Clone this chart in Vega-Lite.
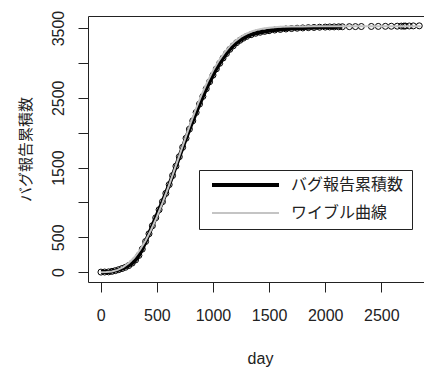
{
  "$schema": "https://vega.github.io/schema/vega-lite/v6.json",
  "width": 344,
  "height": 266,
  "autosize": {"type": "none"},
  "padding": {"left": 88, "top": 16, "right": 0, "bottom": 87},
  "background": "white",
  "config": {
    "view": {"stroke": "#222", "strokeWidth": 1},
    "font": "Liberation Sans"
  },
  "datasets": {
    "obs": [
      {"day": 2, "count": 1}, {"day": 35, "count": 2}, {"day": 70, "count": 4}, {"day": 100, "count": 12},
      {"day": 130, "count": 22}, {"day": 160, "count": 36}, {"day": 190, "count": 52}, {"day": 220, "count": 70},
      {"day": 250, "count": 95}, {"day": 280, "count": 130}, {"day": 310, "count": 175}, {"day": 340, "count": 240},
      {"day": 370, "count": 330}, {"day": 400, "count": 440}, {"day": 430, "count": 550}, {"day": 460, "count": 665},
      {"day": 490, "count": 780}, {"day": 520, "count": 895}, {"day": 550, "count": 1010}, {"day": 580, "count": 1130},
      {"day": 610, "count": 1255}, {"day": 640, "count": 1385}, {"day": 670, "count": 1520}, {"day": 700, "count": 1655},
      {"day": 730, "count": 1790}, {"day": 760, "count": 1920}, {"day": 790, "count": 2050}, {"day": 820, "count": 2170},
      {"day": 850, "count": 2290}, {"day": 880, "count": 2410}, {"day": 910, "count": 2520}, {"day": 940, "count": 2630},
      {"day": 970, "count": 2730}, {"day": 1000, "count": 2825}, {"day": 1030, "count": 2915}, {"day": 1060, "count": 2995},
      {"day": 1090, "count": 3070}, {"day": 1120, "count": 3135}, {"day": 1150, "count": 3195}, {"day": 1180, "count": 3245},
      {"day": 1210, "count": 3290}, {"day": 1240, "count": 3325}, {"day": 1270, "count": 3355}, {"day": 1300, "count": 3380},
      {"day": 1340, "count": 3405}, {"day": 1380, "count": 3425}, {"day": 1420, "count": 3440}, {"day": 1460, "count": 3452},
      {"day": 1500, "count": 3462}, {"day": 1550, "count": 3472}, {"day": 1600, "count": 3480}, {"day": 1650, "count": 3487},
      {"day": 1700, "count": 3493}, {"day": 1750, "count": 3498}, {"day": 1800, "count": 3502}, {"day": 1850, "count": 3506},
      {"day": 1900, "count": 3509}, {"day": 1950, "count": 3512}, {"day": 2000, "count": 3514}, {"day": 2040, "count": 3516},
      {"day": 2080, "count": 3517}, {"day": 2120, "count": 3518}, {"day": 2153, "count": 3519}, {"day": 2215, "count": 3520},
      {"day": 2269, "count": 3521}, {"day": 2322, "count": 3522}, {"day": 2411, "count": 3523}, {"day": 2473, "count": 3524},
      {"day": 2536, "count": 3525}, {"day": 2589, "count": 3526}, {"day": 2642, "count": 3527}, {"day": 2678, "count": 3528},
      {"day": 2700, "count": 3528}, {"day": 2714, "count": 3529}, {"day": 2749, "count": 3530}, {"day": 2785, "count": 3531},
      {"day": 2838, "count": 3532}
    ],
    "weib": [
      {"day": 0, "count": 0}, {"day": 50, "count": 2}, {"day": 100, "count": 11}, {"day": 150, "count": 33},
      {"day": 200, "count": 72}, {"day": 250, "count": 131}, {"day": 300, "count": 214}, {"day": 350, "count": 321},
      {"day": 400, "count": 454}, {"day": 450, "count": 612}, {"day": 500, "count": 793}, {"day": 550, "count": 994},
      {"day": 600, "count": 1210}, {"day": 650, "count": 1439}, {"day": 700, "count": 1672}, {"day": 750, "count": 1905},
      {"day": 800, "count": 2132}, {"day": 850, "count": 2348}, {"day": 900, "count": 2548}, {"day": 950, "count": 2730},
      {"day": 1000, "count": 2890}, {"day": 1050, "count": 3029}, {"day": 1100, "count": 3145}, {"day": 1150, "count": 3241},
      {"day": 1200, "count": 3317}, {"day": 1250, "count": 3377}, {"day": 1300, "count": 3421}, {"day": 1350, "count": 3455},
      {"day": 1400, "count": 3478}, {"day": 1450, "count": 3495}, {"day": 1500, "count": 3506}, {"day": 1600, "count": 3518},
      {"day": 1700, "count": 3522}, {"day": 1800, "count": 3524}, {"day": 1900, "count": 3525}, {"day": 2200, "count": 3525},
      {"day": 2500, "count": 3525}, {"day": 2850, "count": 3525}
    ]
  },
  "layer": [
    {
      "data": {"name": "obs"},
      "mark": {"type": "point", "shape": "circle", "filled": false, "stroke": "black", "strokeWidth": 1, "size": 36, "opacity": 1},
      "encoding": {
        "x": {"field": "day", "type": "quantitative"},
        "y": {"field": "count", "type": "quantitative"}
      }
    },
    {
      "data": {"name": "obs"},
      "transform": [{"filter": "datum.day <= 2153"}, {"calculate": "'バグ報告累積数'", "as": "series"}],
      "mark": {"type": "line"},
      "encoding": {
        "x": {"field": "day", "type": "quantitative"},
        "y": {"field": "count", "type": "quantitative"},
        "color": {"field": "series", "type": "nominal"},
        "strokeWidth": {"field": "series", "type": "nominal"}
      }
    },
    {
      "data": {"name": "weib"},
      "transform": [{"calculate": "'ワイブル曲線'", "as": "series"}],
      "mark": {"type": "line"},
      "encoding": {
        "x": {"field": "day", "type": "quantitative"},
        "y": {"field": "count", "type": "quantitative"},
        "color": {"field": "series", "type": "nominal"},
        "strokeWidth": {"field": "series", "type": "nominal"}
      }
    }
  ],
  "resolve": {"scale": {"color": "shared", "strokeWidth": "shared"}},
  "encoding": {
    "x": {
      "field": "day", "type": "quantitative",
      "scale": {"domain": [-113.5, 2951.5], "nice": false, "zero": false},
      "axis": {
        "title": "day", "values": [0, 500, 1000, 1500, 2000, 2500], "grid": false, "domain": false,
        "format": "d",
        "tickColor": "#222", "tickSize": 10, "labelFontSize": 16, "labelColor": "#222", "labelPadding": 15,
        "labelFlush": false, "titleFontSize": 16, "titleFontWeight": "normal", "titleColor": "#222", "titlePadding": 27
      }
    },
    "y": {
      "field": "count", "type": "quantitative",
      "scale": {"domain": [-141, 3673], "nice": false, "zero": false},
      "axis": {
        "title": "バグ報告累積数", "values": [0, 500, 1000, 1500, 2000, 2500, 3000, 3500], "grid": false, "domain": false,
        "labelExpr": "(datum.value % 1000 == 0 && datum.value > 0) ? '' : datum.label",
        "format": "d",
        "tickColor": "#222", "tickSize": 10, "labelFontSize": 16, "labelColor": "#222", "labelPadding": 12,
        "labelAngle": -90, "labelAlign": "center", "labelBaseline": "bottom", "labelFlush": false,
        "titleFont": "Noto Sans CJK JP", "titleFontSize": 15, "titleFontWeight": "normal", "titleColor": "#222", "titlePadding": 17
      }
    },
    "color": {
      "scale": {"domain": ["バグ報告累積数", "ワイブル曲線"], "range": ["black", "#c4c4c4"]},
      "legend": {
        "title": null, "orient": "none", "legendX": 111, "legendY": 154,
        "symbolType": "stroke", "symbolSize": 4489, "symbolStrokeWidth": 3,
        "strokeColor": "#222", "fillColor": "white", "padding": 8, "cornerRadius": 0,
        "clipHeight": 14, "rowPadding": 12, "symbolOffset": 3, "labelOffset": 10,
        "labelFont": "Noto Sans CJK JP", "labelFontSize": 16, "labelColor": "#222", "labelLimit": 400
      }
    },
    "strokeWidth": {
      "scale": {"domain": ["バグ報告累積数", "ワイブル曲線"], "range": [4, 2]}
    }
  }
}
